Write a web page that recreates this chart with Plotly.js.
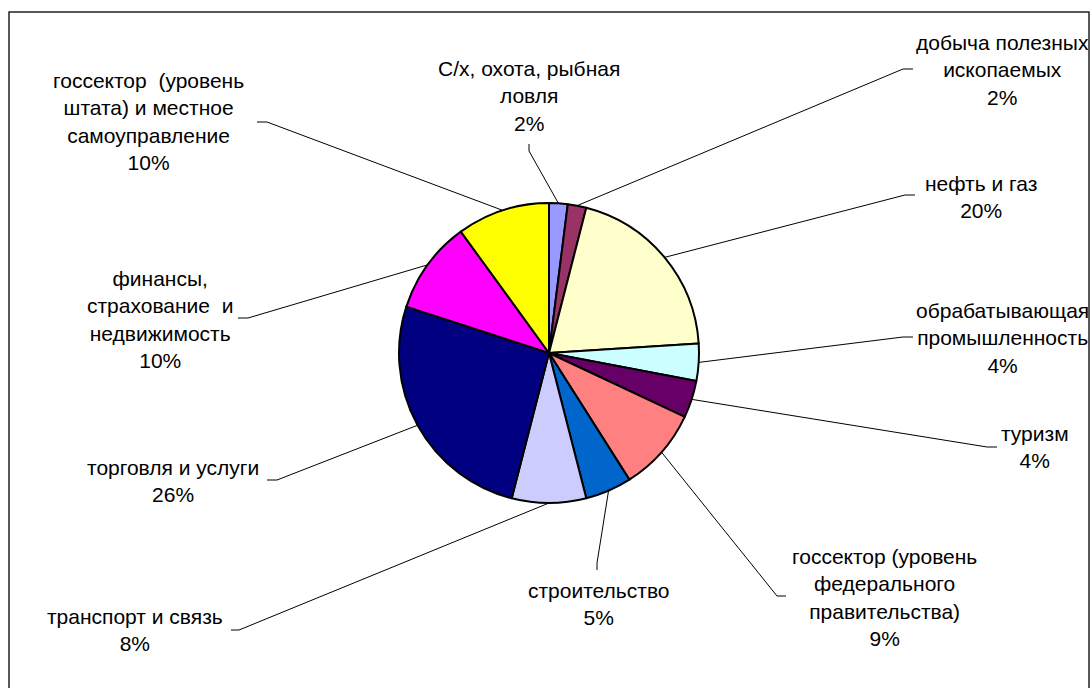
<!DOCTYPE html>
<html>
<head>
<meta charset="utf-8">
<script src="https://cdn.plot.ly/plotly-3.0.1.min.js"></script>
<style>
  html, body { margin: 0; padding: 0; background: #fff; }
  #chart { width: 1090px; height: 688px; }
</style>
</head>
<body>
<div id="chart"></div>
<script>
// ---- data ----
const categories = [
  "С/х, охота, рыбная ловля",
  "добыча полезных ископаемых",
  "нефть и газ",
  "обрабатывающая промышленность",
  "туризм",
  "госсектор (уровень федерального правительства)",
  "строительство",
  "транспорт и связь",
  "торговля и услуги",
  "финансы, страхование и недвижимость",
  "госсектор (уровень штата) и местное самоуправление"
];
const values = [2, 2, 20, 4, 4, 9, 5, 8, 26, 10, 10];
const labelText = [
  "С/х, охота, рыбная<br>ловля",
  "добыча полезных<br>ископаемых",
  "нефть и газ",
  "обрабатывающая<br>промышленность",
  "туризм",
  "госсектор (уровень<br>федерального<br>правительства)",
  "строительство",
  "транспорт и связь",
  "торговля и услуги",
  "финансы,<br>страхование&nbsp; и<br>недвижимость",
  "госсектор&nbsp; (уровень<br>штата) и местное<br>самоуправление"
];

// ---- style / layout ----
const colors = ["#9999FF", "#993366", "#FFFFCC", "#CCFFFF", "#660066", "#FF8080",
                "#0066CC", "#CCCCFF", "#000080", "#FF00FF", "#FFFF00"];
const W = 1090, H = 688;
const cx = 549, cy = 353, R = 150;
// label block centre [x, y], leader bend point, leader end point
const labelPos = [
  [529, 96],  [1002, 70], [981, 197], [1002, 338], [1035, 447], [884, 597],
  [598, 604], [135, 630], [173, 481], [160, 320], [148, 122]
];
const leaderBend = [
  [529, 151], [903, 69], [905, 195], [903, 337], [987, 447], [777, 596],
  [597, 563], [239, 630], [277, 480], [248, 318], [267, 122]
];
const leaderEnd = [
  [529, 144], [913, 69], [915, 195], [913, 337], [997, 447], [786, 596],
  [597, 570], [231, 630], [267, 480], [238, 318], [257, 122]
];

const px = x => x / W;
const py = y => 1 - y / H;

const total = values.reduce((a, b) => a + b, 0);
const shapes = [];
const annotations = [];
let cum = 0;
values.forEach((v, i) => {
  const mid = (cum + v / 2) / total * 2 * Math.PI;
  cum += v;
  const ex = cx + R * Math.sin(mid);
  const ey = cy - R * Math.cos(mid);
  const lineStyle = { color: "#000", width: 1 };
  shapes.push({ type: "line", xref: "paper", yref: "paper",
    x0: px(ex), y0: py(ey), x1: px(leaderBend[i][0]), y1: py(leaderBend[i][1]), line: lineStyle });
  shapes.push({ type: "line", xref: "paper", yref: "paper",
    x0: px(leaderBend[i][0]), y0: py(leaderBend[i][1]), x1: px(leaderEnd[i][0]), y1: py(leaderEnd[i][1]), line: lineStyle });
  const pct = Math.round(v / total * 100);
  annotations.push({
    xref: "paper", yref: "paper",
    x: px(labelPos[i][0]), y: py(labelPos[i][1]),
    xanchor: "center", yanchor: "middle", align: "center",
    showarrow: false,
    text: labelText[i] + "<br>" + pct + "%",
    font: { family: "Liberation Sans, Arial, sans-serif", size: 21, color: "#000" }
  });
});

// outer chart border
shapes.push({ type: "rect", xref: "paper", yref: "paper",
  x0: px(9), x1: px(1089), y0: py(12), y1: py(720),
  line: { color: "#222", width: 1.5 }, layer: "below" });

const trace = {
  type: "pie",
  labels: categories,
  values: values,
  sort: false,
  direction: "clockwise",
  rotation: 0,
  textinfo: "none",
  hoverinfo: "none",
  showlegend: false,
  marker: { colors: colors, line: { color: "#000", width: 2 } },
  domain: { x: [px(cx - R), px(cx + R)], y: [py(cy + R), py(cy - R)] }
};

const layout = {
  width: W, height: H,
  margin: { l: 0, r: 0, t: 0, b: 0 },
  paper_bgcolor: "#fff",
  showlegend: false,
  shapes: shapes,
  annotations: annotations
};

Plotly.newPlot("chart", [trace], layout, { displayModeBar: false, staticPlot: true });
</script>
</body>
</html>
